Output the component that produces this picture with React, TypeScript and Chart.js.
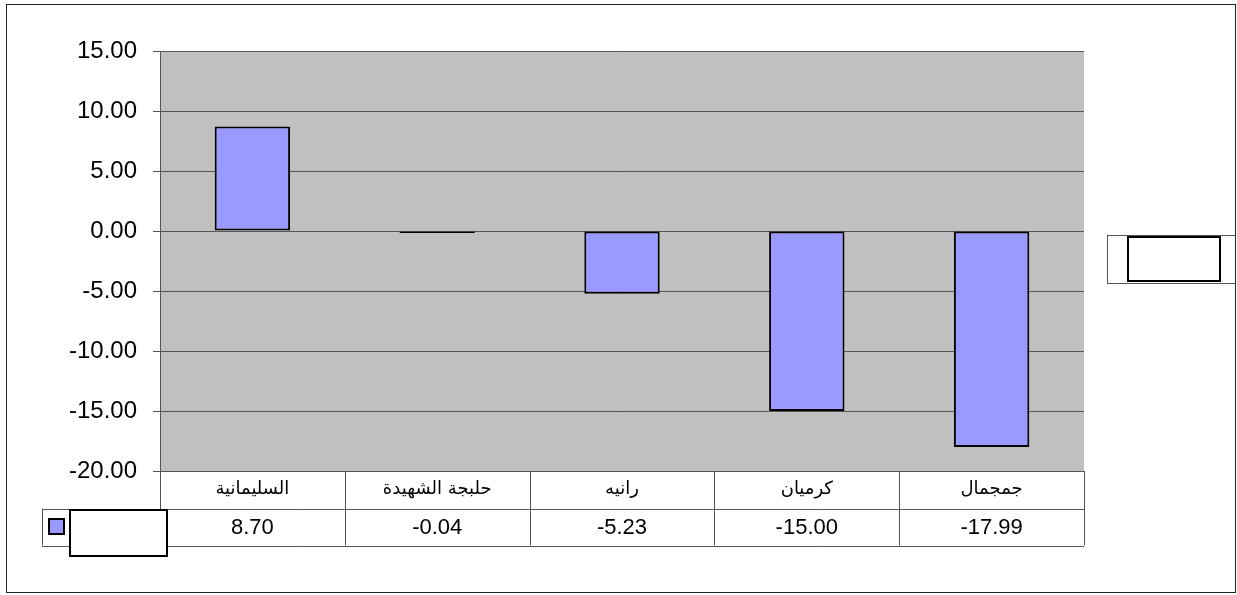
import { useEffect, useRef } from "react";
import { Chart, registerables } from "chart.js";

Chart.register(...registerables);

// Districts and their values
const categories = ["السليمانية", "حلبجة الشهيدة", "رانيه", "كرميان", "جمجمال"];
const values = [8.7, -0.04, -5.23, -15.0, -17.99];
const yTicks = [15, 10, 5, 0, -5, -10, -15, -20];

const BAR_FILL = "#9999FF";
const PLOT_BG = "#C0C0C0";
const GRID = "#555555";
const LATIN = "'Liberation Sans', Arial, sans-serif";
const ARABIC = "'DejaVu Sans', sans-serif";

// Page background, plot fill and outer frame
const backgroundPlugin = {
  id: "plotBackground",
  beforeDraw(chart: any) {
    const { ctx, chartArea, width, height } = chart;
    ctx.save();
    ctx.fillStyle = "#ffffff";
    ctx.fillRect(0, 0, width, height);
    ctx.fillStyle = PLOT_BG;
    ctx.fillRect(chartArea.left, chartArea.top, chartArea.right - chartArea.left, chartArea.bottom - chartArea.top);
    ctx.restore();
  },
};

// Data table under the plot, legend key, and the side legend box
const dataTablePlugin = {
  id: "dataTable",
  afterDraw(chart: any) {
    const { ctx, chartArea } = chart;
    const xScale = chart.scales.x;
    const n = categories.length;
    const colW = (chartArea.right - chartArea.left) / n;
    const rowTop = chartArea.bottom;
    const rowMid = rowTop + 37.5;
    const rowBot = rowMid + 37;
    const keyLeft = 42;

    ctx.save();
    ctx.strokeStyle = GRID;
    ctx.lineWidth = 1;
    const line = (x1: number, y1: number, x2: number, y2: number) => {
      ctx.beginPath();
      ctx.moveTo(x1, y1);
      ctx.lineTo(x2, y2);
      ctx.stroke();
    };

    // horizontal rules
    line(chartArea.left, Math.round(rowTop) + 0.5, chartArea.right, Math.round(rowTop) + 0.5);
    line(keyLeft, Math.round(rowMid) + 0.5, chartArea.right, Math.round(rowMid) + 0.5);
    line(keyLeft, Math.round(rowBot) + 0.5, chartArea.right, Math.round(rowBot) + 0.5);
    // vertical rules
    for (let i = 0; i <= n; i++) {
      const x = Math.round(chartArea.left + i * colW) + 0.5;
      line(x, rowTop, x, rowBot);
    }
    line(keyLeft + 0.5, rowMid, keyLeft + 0.5, rowBot);

    // category names and values
    ctx.fillStyle = "#000";
    ctx.textAlign = "center";
    ctx.textBaseline = "middle";
    categories.forEach((c, i) => {
      const cx = xScale.getPixelForValue(i);
      ctx.font = `18px ${ARABIC}`;
      ctx.fillText(c, cx, (rowTop + rowMid) / 2);
      ctx.font = `22px ${LATIN}`;
      ctx.fillText(values[i].toFixed(2), cx, (rowMid + rowBot) / 2 + 1);
    });

    // legend key in the table
    ctx.fillStyle = BAR_FILL;
    ctx.fillRect(49, 519, 15, 15);
    ctx.strokeStyle = "#000";
    ctx.lineWidth = 2;
    ctx.strokeRect(49, 519, 15, 15);

    // empty series-name box
    ctx.fillStyle = "#fff";
    ctx.fillRect(70, 510, 97, 46);
    ctx.strokeRect(70, 510, 97, 46);

    // side legend
    ctx.lineWidth = 1;
    ctx.strokeStyle = GRID;
    ctx.fillStyle = "#fff";
    ctx.fillRect(1107.5, 235.5, 128, 48);
    ctx.strokeRect(1107.5, 235.5, 128, 48);
    ctx.lineWidth = 2;
    ctx.strokeStyle = "#000";
    ctx.strokeRect(1128, 237, 92, 44);

    // chart frame
    ctx.lineWidth = 1;
    ctx.strokeStyle = "#222";
    ctx.strokeRect(6.5, 4.5, 1229, 588);
    ctx.restore();
  },
};

export default function App() {
  const canvasRef = useRef<HTMLCanvasElement | null>(null);

  useEffect(() => {
    if (!canvasRef.current) return;
    const chart = new Chart(canvasRef.current, {
      type: "bar",
      data: {
        labels: categories,
        datasets: [
          {
            data: values,
            backgroundColor: BAR_FILL,
            borderColor: "#000",
            borderWidth: 2,
            borderSkipped: false,
            minBarLength: 2,
            categoryPercentage: 0.8,
            barPercentage: 0.51,
          },
        ],
      },
      options: {
        responsive: false,
        animation: false,
        layout: { padding: { left: 0, right: 153, top: 51, bottom: 124 } },
        plugins: { legend: { display: false }, tooltip: { enabled: false } },
        scales: {
          x: { display: false },
          y: {
            min: Math.min(...yTicks),
            max: Math.max(...yTicks),
            ticks: {
              stepSize: yTicks[0] - yTicks[1],
              callback: (v: any) => Number(v).toFixed(2),
              color: "#000",
              font: { family: LATIN, size: 24 },
              padding: 16,
            },
            grid: { color: GRID, tickLength: 7, tickColor: GRID, lineWidth: 1 },
            border: { color: GRID, width: 1 },
            afterFit: (scale: any) => {
              scale.width = 160;
            },
          },
        },
      },
      plugins: [backgroundPlugin, dataTablePlugin],
    });
    return () => chart.destroy();
  }, []);

  return (
    <div style={{ position: "absolute", left: 0, top: 0, width: 1237, height: 595 }}>
      <canvas ref={canvasRef} width={1237} height={595} style={{ display: "block" }} />
    </div>
  );
}
